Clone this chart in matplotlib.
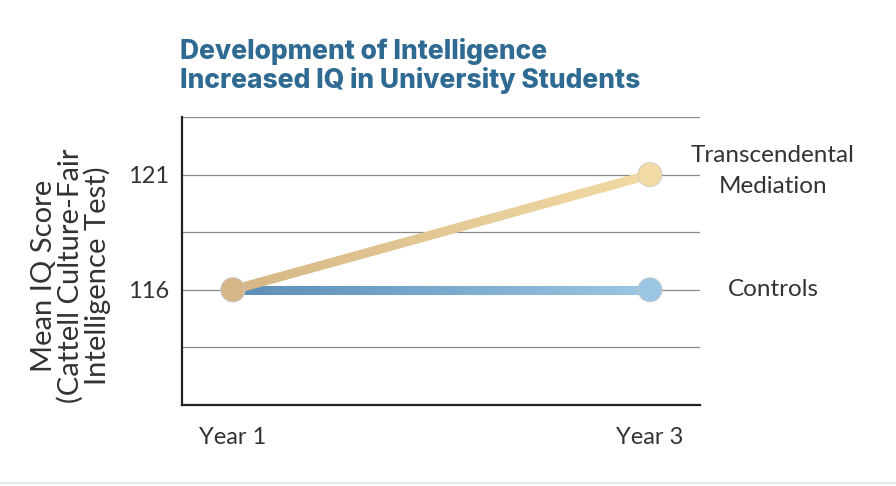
import numpy as np
import matplotlib
matplotlib.use("Agg")
import matplotlib.pyplot as plt
from matplotlib.collections import LineCollection
from matplotlib.colors import LinearSegmentedColormap
from matplotlib.lines import Line2D

# data
years = ["Year 1", "Year 3"]
tm_scores = [116, 121]
control_scores = [116, 116]
series_names = ["Transcendental\nMediation", "Controls"]
labeled_ticks = [116, 121]
grid_levels = [113.5, 116, 118.5, 121, 123.5]

plt.rcParams['font.family'] = ['Lato', 'DejaVu Sans']

fig = plt.figure(figsize=(8.96, 4.86), dpi=100)
ax = fig.add_axes([182 / 896, 1 - 405 / 486, 518 / 896, 288 / 486])

xpos = np.arange(len(years))


def gradient_line(ax, xs, ys, c0, c1, lw, z):
    cmap = LinearSegmentedColormap.from_list("g", [c0, c1])
    t = np.linspace(0, 1, 120)
    px = np.interp(t, [0, 1], xs)
    py = np.interp(t, [0, 1], ys)
    pts = np.column_stack([px, py]).reshape(-1, 1, 2)
    segs = np.concatenate([pts[:-1], pts[1:]], axis=1)
    lc = LineCollection(segs, cmap=cmap, linewidths=lw, capstyle='round', zorder=z)
    lc.set_array(t[:-1])
    ax.add_collection(lc)
    ax.scatter(xs, ys, s=300, c=[c0, c1], edgecolors='#c9c9c9', linewidths=0.6,
               zorder=z + 0.5)


gradient_line(ax, xpos, control_scores, '#5a8db6', '#9bc5e3', 6.5, 3)
gradient_line(ax, xpos, tm_scores, '#d6b686', '#f1daa4', 6.5, 4)

ax.set_xlim(-0.122, 1.12)
ax.set_ylim(111, 123.5)

ax.set_yticks(labeled_ticks)
ax.set_yticks([g for g in grid_levels if g not in labeled_ticks], minor=True)
ax.grid(axis='y', which='both', color='#8a8a8a', linewidth=0.9, zorder=0)
ax.set_axisbelow(True)
ax.tick_params(axis='y', which='both', length=0, pad=9, labelsize=17,
               labelcolor='#333333')
ax.set_xticks(xpos)
ax.set_xticklabels(years)
ax.tick_params(axis='x', length=0, pad=16, labelsize=17, labelcolor='#333333')

for s in ['top', 'right']:
    ax.spines[s].set_visible(False)
for s in ['left', 'bottom']:
    ax.spines[s].set_color('#222222')
    ax.spines[s].set_linewidth(1.6)

# series labels at the right
ax.text(1.295, tm_scores[-1] + 0.15, series_names[0], ha='center', va='center',
        fontsize=17.5, color='#333333', linespacing=1.57, clip_on=False)
ax.text(1.295, control_scores[-1], series_names[1], ha='center', va='center',
        fontsize=17.5, color='#333333', clip_on=False)

fig.text(71 / 896, 1 - 276 / 486,
         "Mean IQ Score\n(Cattell Culture-Fair\nIntelligence Test)",
         rotation=90, ha='center', va='center', multialignment='center',
         fontsize=21, color='#333333', linespacing=1.0)

fig.text(180 / 896, 1 - 66 / 486,
         "Development of Intelligence\nIncreased IQ in University Students",
         ha='left', va='center', fontsize=19, fontweight='heavy',
         family=['Inter', 'DejaVu Sans'],
         color='#2f6a93', linespacing=1.12)

fig.add_artist(Line2D([0, 1], [1 - 483 / 486] * 2, color='#e3e9ed', linewidth=1.5))

fig.savefig("out.png", dpi=100)
